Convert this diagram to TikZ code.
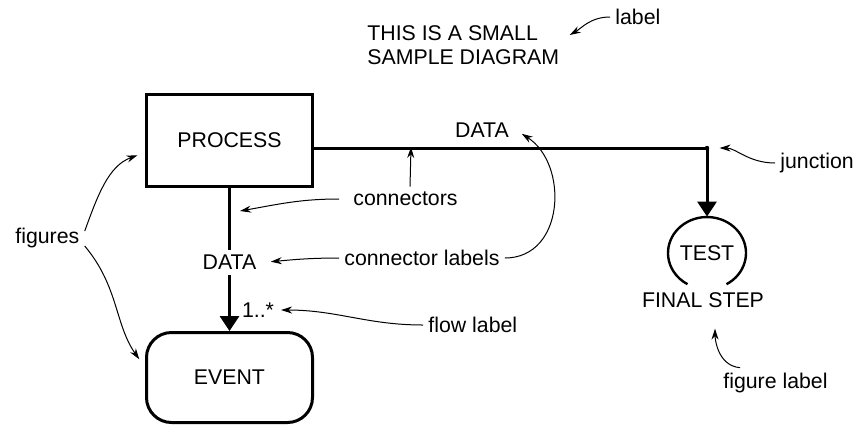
\documentclass[tikz,border=0pt]{standalone}
\usepackage{fontspec}
\setmainfont{Liberation Sans}
\usepackage{xcolor}
\usepackage{tikz}
\usetikzlibrary{shapes,arrows,positioning,calc,arrows.meta}
\tikzset{
  figureBox/.style={
    rectangle,
    draw=black,
    line width=1.5pt,
    minimum width=83pt,
    minimum height=46pt,
    align=center
  },
  eventBox/.style={
    figureBox,
    minimum height=45pt,
    rounded corners=12.5pt
  },
  testCircle/.style={
    ellipse,
    minimum width=39pt,
    minimum height=36pt,
    inner sep=0pt
  },
  flowLine/.style={
    line width=1.5pt
  },
  arrowLine/.style={
    -{Triangle[length=7.5pt,width=9.5pt]},
    line width=1.5pt
  },
  connLabel/.style={
    fill=white,
    inner sep=2.5pt
  },
  noteText/.style={
    inner sep=2.5pt,
    align=left,
    anchor=west
  },
  noteArrow/.style={
    -{Stealth[length=5.5pt,width=3.5pt]},
    line width=0.5pt
  },
  junctionDot/.style={
    circle,
    fill=black,
    inner sep=0pt,
    minimum size=2.2pt
  }
}

\begin{document}
\begin{tikzpicture}[x=0.5pt,y=0.5pt,font=\fontsize{10.65}{12}\selectfont]
        \useasboundingbox (0,0) rectangle (856,-425);

        \node[figureBox] (process) at (229.5,-140.5) {PROCESS};
        \node[eventBox, below=71.5pt of process] (event) {EVENT};
        \node[junctionDot] (jn) at (707,-148) {};
        \node[testCircle] (test) at (707,-253) {TEST};
        \node (finalStep) at (703,-300) {FINAL STEP};
        \node (dataTop) at (482,-130) {DATA};
        \node (flowMult) at (258,-310) {1..*};

        \draw[line width=1.2pt] (test.center) ++(9.75pt,-15.6pt)
            arc[start angle=-60,end angle=240,x radius=19.5pt,y radius=18pt];
        \draw[flowLine] (process.east |- jn) -- (jn.center);
        \draw[arrowLine] (jn.center) -- (test.north);
        \draw[arrowLine] (process) -- node[connLabel, pos=0.52] (dataDown) {DATA} (event);

        \node[noteText] (title) at (362,-45) {THIS IS A SMALL\\SAMPLE DIAGRAM};
        \node[noteText] (lblNote) at (610,-17) {label};
        \node[noteText] (jnNote) at (775,-163) {junction};
        \node[noteText] (connNote) at (348,-199) {connectors};
        \node[noteText] (connLabelNote) at (339,-258) {connector labels};
        \node[noteText] (flowNote) at (423,-325) {flow label};
        \node[noteText] (figLabelNote) at (718,-383) {figure label};
        \node[noteText] (figNote) at (10,-238) {figures};

        \coordinate (hLineMark) at (411,-147);
        \coordinate (vLineMark) at (240,-211);

        \draw[noteArrow, shorten >=3pt] (lblNote.west) to[out=180,in=30] ([yshift=3.5pt]title.east);
        \draw[noteArrow, shorten >=5pt] (jnNote.west) to[out=180,in=0] (jn.east);
        \draw[noteArrow] ([xshift=2.25pt]connNote.north) -- (hLineMark);
        \draw[noteArrow] ([xshift=-4.5pt]connNote.west) to[out=180,in=10] (vLineMark);
        \draw[noteArrow, shorten >=4pt] (connLabelNote.west) to[out=180,in=5] (dataDown.east);
        \draw[noteArrow, shorten >=3.5pt] (connLabelNote.east) .. controls +(60,0) and +(53,-34) .. (dataTop.east);
        \draw[noteArrow] (flowNote.west) to[out=180,in=0] (flowMult.east);
        \draw[noteArrow, shorten >=4pt] ([yshift=3.5pt]figNote.east) to[out=70,in=200] ([yshift=-6pt]process.west);
        \draw[noteArrow, shorten >=5pt] ([yshift=-4pt]figNote.east) to[out=-50,in=125] ([yshift=5pt]event.west);
        \draw[noteArrow, shorten >=7pt] ([xshift=11pt]figLabelNote.north west) to[out=175,in=-90] ([xshift=6pt]finalStep.south);

    \end{tikzpicture}
\end{document}
